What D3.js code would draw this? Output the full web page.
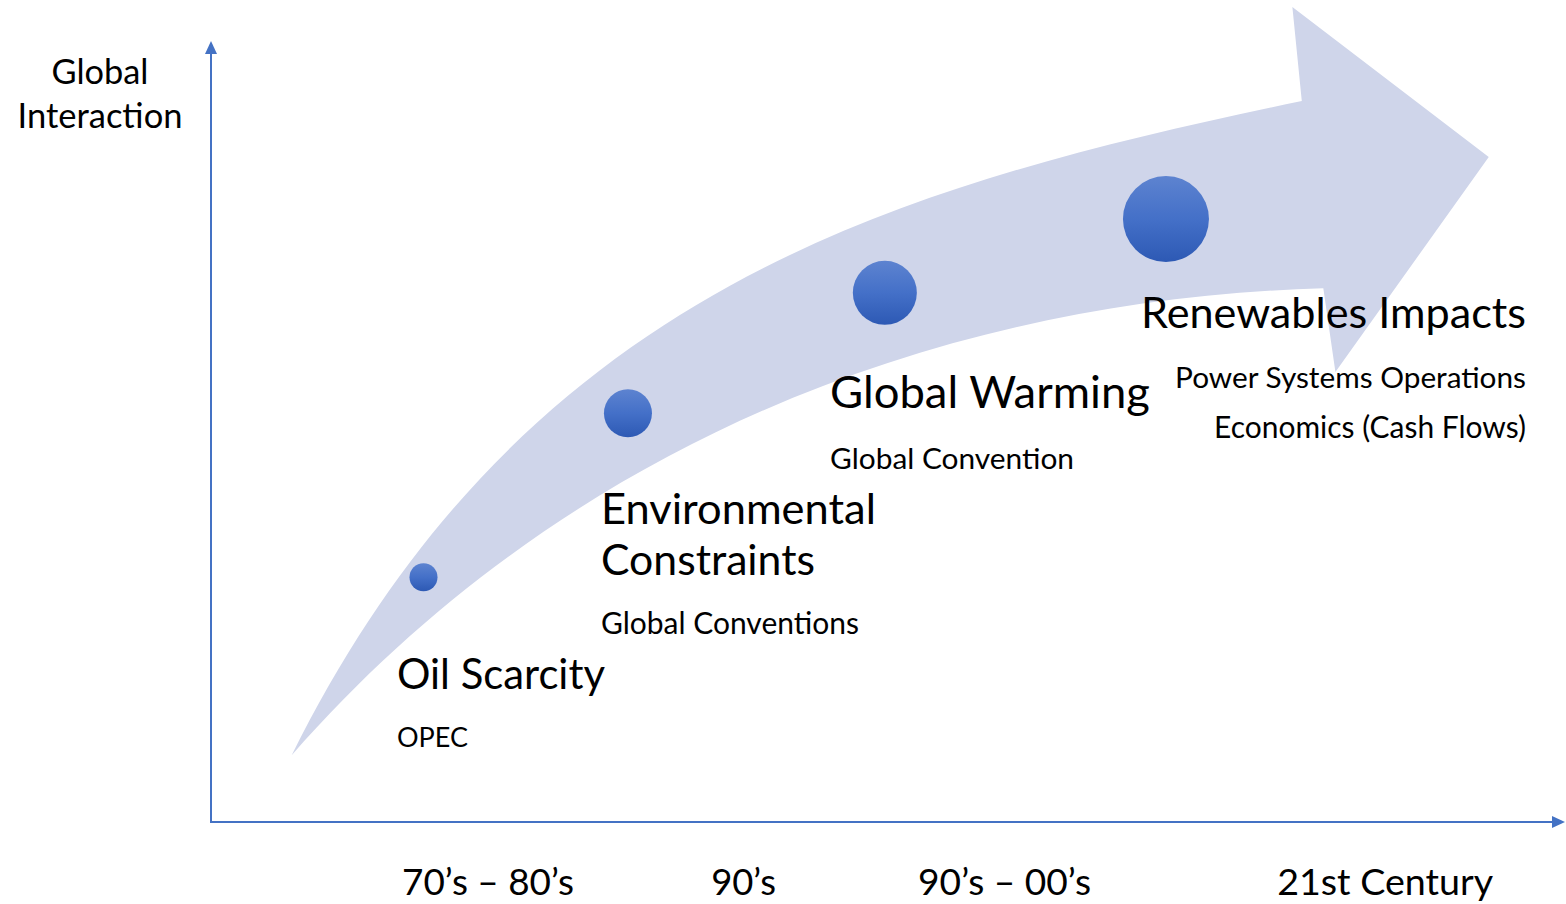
<!DOCTYPE html>
<html><head><meta charset="utf-8">
<script src="https://cdn.jsdelivr.net/npm/d3@7"></script>
<style>html,body{margin:0;padding:0;background:#fff;}svg{display:block;}</style>
</head><body>
<script>
// ---- data ----
const eras = ["70’s – 80’s", "90’s", "90’s – 00’s", "21st Century"];
const eraX = [20.6, 39.6, 59.0, 87.3];
const milestones = ["Oil Scarcity", "Environmental Constraints", "Global Warming", "Renewables Impacts"];
const milestoneX = [15.8, 31.0, 50.1, 71.0];
const interaction = [31.5, 52.6, 68.1, 77.6];
const impact = [1.4, 2.4, 3.2, 4.3];
const drivers = [["OPEC"], ["Global Conventions"], ["Global Convention"], ["Power Systems Operations", "Economics (Cash Flows)"]];
const yTitle = ["Global", "Interaction"];
// trend arrow outline (data units): bezier control points of the edges + head corners
const arrowUpper = [[6.0, 8.6], [23.35, 69.1], [51.4, 82.0], [81.1, 92.8]];
const arrowHead = [[80.4, 104.9], [95.0, 85.6], [83.6, 57.9], [82.7, 68.7]];
const arrowLower = [[82.7, 68.7], [53.5, 67.2], [25.9, 47.9], [6.0, 8.6]];

const W = 1566, H = 904;
const svg = d3.select("body").append("svg").attr("width", W).attr("height", H);
const x = d3.scaleLinear().domain([0, 100]).range([211, 1556]);
const y = d3.scaleLinear().domain([0, 100]).range([822, 45]);
const r = d3.scaleLinear().domain([0, 1]).range([0, 10]);
const FONT = "Lato, 'Open Sans', sans-serif";
const AX = "#4472C4";

const defs = svg.append("defs");
const g = defs.append("linearGradient").attr("id", "dot").attr("x1", 0).attr("y1", 0).attr("x2", 0).attr("y2", 1);
g.append("stop").attr("offset", "0%").attr("stop-color", "#5d83d0");
g.append("stop").attr("offset", "50%").attr("stop-color", "#4470c8");
g.append("stop").attr("offset", "100%").attr("stop-color", "#2d59b4");

// arrow shape
const pth = d3.path();
const X = p => x(p[0]), Y = p => y(p[1]);
pth.moveTo(X(arrowUpper[0]), Y(arrowUpper[0]));
pth.bezierCurveTo(X(arrowUpper[1]), Y(arrowUpper[1]), X(arrowUpper[2]), Y(arrowUpper[2]), X(arrowUpper[3]), Y(arrowUpper[3]));
arrowHead.forEach(p => pth.lineTo(X(p), Y(p)));
pth.bezierCurveTo(X(arrowLower[1]), Y(arrowLower[1]), X(arrowLower[2]), Y(arrowLower[2]), X(arrowLower[3]), Y(arrowLower[3]));
pth.closePath();
svg.append("path").attr("d", pth.toString()).attr("fill", "#cfd5ea");

// axes
svg.append("line").attr("x1", x(0)).attr("y1", y(0)).attr("x2", x(0)).attr("y2", y(100) + 8)
  .attr("stroke", AX).attr("stroke-width", 2);
svg.append("path").attr("d", `M${x(0)},${y(100) - 4} L${x(0) - 6},${y(100) + 9} L${x(0) + 6},${y(100) + 9} Z`).attr("fill", AX);
svg.append("line").attr("x1", x(0) - 1).attr("y1", y(0)).attr("x2", W - 12).attr("y2", y(0))
  .attr("stroke", AX).attr("stroke-width", 2);
svg.append("path").attr("d", `M${W - 1},${y(0)} L${W - 14},${y(0) - 6} L${W - 14},${y(0) + 6} Z`).attr("fill", AX);

// circles
svg.selectAll("circle.dot").data(milestones).join("circle").attr("class", "dot")
  .attr("cx", (d, i) => x(milestoneX[i])).attr("cy", (d, i) => y(interaction[i]))
  .attr("r", (d, i) => r(impact[i])).attr("fill", "url(#dot)");

// text helper: fit to width
function txt(s, px, py, width, anchor) {
  const t = svg.append("text").attr("x", px).attr("y", py).attr("text-anchor", anchor || "start")
    .attr("font-family", FONT).attr("font-size", 100).attr("fill", "#000").text(s);
  const w = t.node().getComputedTextLength();
  t.attr("font-size", (100 * width / w).toFixed(2));
  return t;
}

// y title
txt(yTitle[0], 100, 84, 97, "middle");
txt(yTitle[1], 100, 128, 165, "middle");

// era labels
const eraW = [172, 65, 173, 216];
eras.forEach((e, i) => txt(e, x(eraX[i]), 895, eraW[i], "middle"));

// milestone titles and drivers
txt("Oil Scarcity", 397, 689, 208);
txt(drivers[0][0], 397, 747, 71);
txt("Environmental", 601, 524, 275);
txt("Constraints", 601, 575, 214);
txt(drivers[1][0], 601, 634, 258);
txt("Global Warming", 830, 408, 320);
txt(drivers[2][0], 830, 469, 244);
txt("Renewables Impacts", 1526, 328, 385, "end");
txt(drivers[3][0], 1526, 388, 351, "end");
txt(drivers[3][1], 1526, 438, 312, "end");
</script>
</body></html>
